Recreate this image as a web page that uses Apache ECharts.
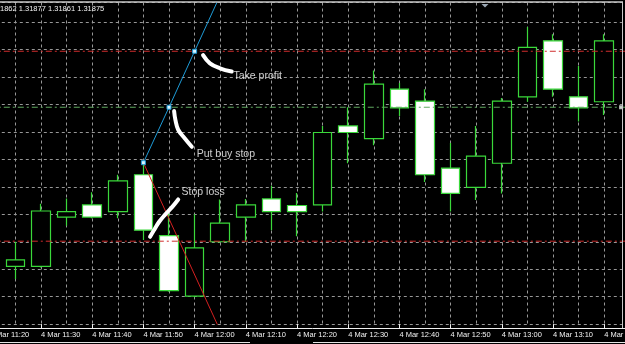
<!DOCTYPE html>
<html><head><meta charset="utf-8">
<script src="https://cdn.jsdelivr.net/npm/echarts@6/dist/echarts.min.js"></script>
<style>html,body{margin:0;padding:0;background:#000;overflow:hidden}#c{width:625px;height:344px}</style>
</head><body><div id="c"></div>
<script>
// time categories (5-minute bars), index 0 and 25 are empty slots at the edges
const categories = ['4 Mar 11:20','4 Mar 11:25','4 Mar 11:30','4 Mar 11:35','4 Mar 11:40','4 Mar 11:45',
  '4 Mar 11:50','4 Mar 11:55','4 Mar 12:00','4 Mar 12:05','4 Mar 12:10','4 Mar 12:15','4 Mar 12:20',
  '4 Mar 12:25','4 Mar 12:30','4 Mar 12:35','4 Mar 12:40','4 Mar 12:45','4 Mar 12:50','4 Mar 12:55',
  '4 Mar 13:00','4 Mar 13:05','4 Mar 13:10','4 Mar 13:15','4 Mar 13:20','4 Mar 13:25'];
const opens  = [null,1.317905,1.317905,1.317995,1.318017,1.318005,1.318072,1.317961,1.317851,1.317950,1.317995,1.318028,1.318016,1.318017,1.318161,1.318138,1.318228,1.318206,1.318084,1.318049,1.318093,1.318214,1.318316,1.318214,1.318205,null];
const closes = [null,1.317917,1.318006,1.318005,1.317995,1.318061,1.317971,1.317861,1.317939,1.317984,1.318017,1.318005,1.318005,1.318149,1.318149,1.318237,1.318194,1.318072,1.318038,1.318106,1.318206,1.318304,1.318228,1.318194,1.318316,null];
const lows   = [null,1.317882,1.317903,1.317979,1.317993,1.317993,1.317953,1.317859,1.317849,1.317948,1.317950,1.317971,1.317960,1.318005,1.318093,1.318126,1.318179,1.318059,1.318005,1.318026,1.318038,1.318205,1.318214,1.318169,1.318181,null];
const highs  = [null,1.317950,1.318019,1.318029,1.318040,1.318072,1.318094,1.318002,1.318000,1.318027,1.318028,1.318052,1.318039,1.318161,1.318195,1.318262,1.318239,1.318228,1.318130,1.318161,1.318212,1.318341,1.318328,1.318270,1.318328,null];

// order levels
const takeProfit = 1.318297;
const buyStop = 1.318195;
const stopLoss = 1.317951;

// drawn trend lines (x = bar index, y = price)
const cyanX = [6, 7, 8, 9];
const cyanY = [1.318094, 1.318195, 1.318297, 1.318399];
const redX = [6, 9];
const redY = [1.318094, 1.317788];

// hand-drawn annotation strokes
const strokeTP_X = [8.33, 8.60, 8.99, 9.45];
const strokeTP_Y = [1.318290, 1.318275, 1.318266, 1.318260];
const strokeBS_X = [7.20, 7.25, 7.36, 7.62, 7.89];
const strokeBS_Y = [1.318188, 1.318172, 1.318154, 1.318138, 1.318123];
const strokeSL_X = [7.36, 7.12, 6.84, 6.61, 6.41, 6.26];
const strokeSL_Y = [1.318027, 1.318013, 1.317999, 1.317986, 1.317971, 1.317959];

// annotation texts
const noteTexts = ['Take profit', 'Put buy stop', 'Stop loss'];
const noteX = [9.50, 8.06, 7.47];
const noteY = [1.318251, 1.318109, 1.318041];

const headerText = '1862 1.31877 1.31861 1.31875';

const zip = (xs, ys) => xs.map((x, i) => [x, ys[i]]);
const candleData = categories.map((c, i) => opens[i] == null ? '-' : [opens[i], closes[i], lows[i], highs[i]]);
const FONT = 'Liberation Sans, Arial, sans-serif';
const GREEN = '#3ad83a';
const GRIDC = '#979797';

const chart = echarts.init(document.getElementById('c'), null, {renderer: 'canvas'});
const strokeSeries = (xs, ys) => ({
  type: 'line', xAxisIndex: 1, yAxisIndex: 0, data: zip(xs, ys), smooth: 0.4, symbol: 'none',
  lineStyle: {color: '#ffffff', width: 4, cap: 'round', join: 'round'}, z: 6, silent: true
});
const levelSeries = (p, color) => ({
  type: 'line', xAxisIndex: 1, yAxisIndex: 0, data: [[0, p], [25, p]], symbol: 'none',
  lineStyle: {color: color, width: 1, type: [6, 3, 2, 3]}, z: 4, silent: true
});

chart.setOption({
  animation: false,
  backgroundColor: '#000000',
  title: {text: headerText, left: 0, top: 5, padding: 0,
    textStyle: {color: '#f2f2f2', fontSize: 7.5, fontWeight: 'normal', fontFamily: FONT}},
  grid: {left: -10.2, width: 640, top: 2.5, bottom: 19.9, outerBoundsMode: 'none', containLabel: false},
  xAxis: [{
    type: 'category', data: categories, boundaryGap: false, offset: 4,
    axisLine: {show: true, lineStyle: {color: '#f0f0f0', width: 1}},
    axisTick: {show: true, inside: true, length: 4, interval: 1, lineStyle: {color: '#f0f0f0'}},
    axisLabel: {show: true, interval: 1, align: 'left', margin: 3, color: '#f2f2f2', fontSize: 7.5, fontFamily: FONT},
    splitLine: {show: true, interval: 0, lineStyle: {color: GRIDC, width: 1, type: [3, 3]}}
  }, {
    type: 'value', min: 0, max: 25, show: false
  }],
  yAxis: [{
    type: 'value', position: 'right', min: 1.3178, max: 1.3183858, interval: 0.00005, scale: true,
    axisLine: {show: false}, axisTick: {show: false}, axisLabel: {show: false},
    splitLine: {show: true, lineStyle: {color: GRIDC, width: 1, type: [3, 3]}}
  }],
  series: [
    {
      type: 'candlestick', xAxisIndex: 0, yAxisIndex: 0, data: candleData, barWidth: 19, z: 2,
      itemStyle: {color: '#000000', color0: '#ffffff', borderColor: GREEN, borderColor0: GREEN,
        borderColorDoji: GREEN, borderWidth: 1.2}
    },
    levelSeries(takeProfit, '#d02c2c'),
    levelSeries(stopLoss, '#d02c2c'),
    levelSeries(buyStop, '#5fa85f'),
    {
      type: 'line', xAxisIndex: 1, yAxisIndex: 0,
      data: zip(cyanX, cyanY).map((d, i) => i < 3 ? {value: d} : {value: d, symbol: 'none'}),
      symbol: 'rect', symbolSize: 4, showAllSymbol: true,
      itemStyle: {color: '#d8f4ff', borderColor: '#1e9bd7', borderWidth: 1},
      lineStyle: {color: '#1e9bd7', width: 1}, z: 5, silent: true
    },
    {
      type: 'line', xAxisIndex: 1, yAxisIndex: 0, data: zip(redX, redY), symbol: 'none',
      lineStyle: {color: '#d42020', width: 1}, z: 4, silent: true
    },
    strokeSeries(strokeTP_X, strokeTP_Y),
    strokeSeries(strokeBS_X, strokeBS_Y),
    strokeSeries(strokeSL_X, strokeSL_Y),
    {
      type: 'scatter', xAxisIndex: 1, yAxisIndex: 0, symbolSize: 1, itemStyle: {color: 'rgba(0,0,0,0)'},
      data: noteTexts.map((t, i) => ({value: [noteX[i], noteY[i]], name: t})),
      label: {show: true, position: 'right', distance: 0, formatter: '{b}', color: '#ffffff',
        fontSize: 10.5, fontFamily: FONT}, z: 7, silent: true
    },
    {
      type: 'scatter', xAxisIndex: 1, yAxisIndex: 0, data: [[24.66, buyStop]], symbol: 'rect', symbolSize: 4,
      itemStyle: {color: '#e8e8e8'}, z: 5, silent: true
    }
  ],
  graphic: [
    {type: 'line', shape: {x1: 0, y1: 2, x2: 623, y2: 2}, style: {stroke: '#c8c8c8', lineWidth: 1.5}, z: 100, silent: true},
    {type: 'line', shape: {x1: 622.5, y1: 2, x2: 622.5, y2: 328}, style: {stroke: '#c8c8c8', lineWidth: 1}, z: 100, silent: true},
    {type: 'polygon', shape: {points: [[481.5, 4], [488.5, 4], [485, 7.5]]}, style: {fill: '#9aa6b2'}, z: 100, silent: true},
    {type: 'line', shape: {x1: 0, y1: 342.5, x2: 250, y2: 342.5}, style: {stroke: '#e4e4e4', lineWidth: 1}, z: 100, silent: true},
    {type: 'line', shape: {x1: 313, y1: 342.5, x2: 625, y2: 342.5}, style: {stroke: '#e4e4e4', lineWidth: 1}, z: 100, silent: true}
  ]
});
</script>
</body></html>
